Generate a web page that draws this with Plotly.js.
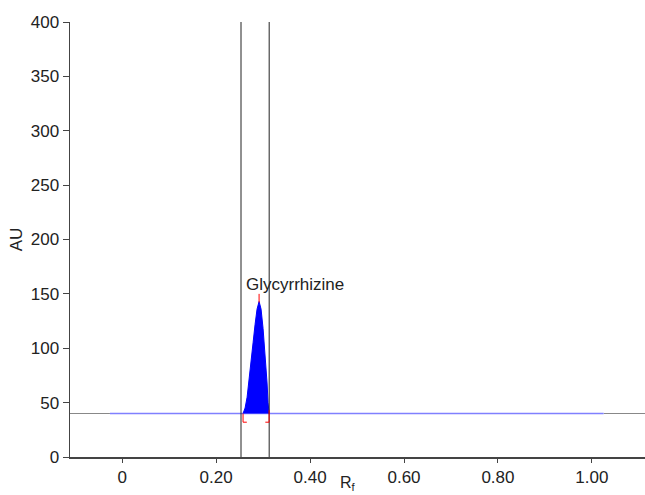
<!DOCTYPE html>
<html><head><meta charset="utf-8">
<script src="https://cdn.plot.ly/plotly-3.0.1.min.js"></script>
<style>html,body{margin:0;padding:0;background:#fff}#c{width:645px;height:495px}</style>
</head><body><div id="c"></div>
<script>
// Peak profile (Rf vs AU)
const peakRf = [0.2574, 0.2617, 0.2660, 0.2702, 0.2745, 0.2787, 0.2830, 0.2872, 0.2915, 0.2957, 0.3000, 0.3043, 0.3085, 0.3106, 0.3128];
const peakAU = [40, 45, 55, 70, 88, 105, 122, 136, 143, 136, 118, 95, 68, 50, 40];
const baselineAU = 40;
const baseStart = -0.026, baseEnd = 1.025;
const xMin = -0.111, xMax = 1.113;
const boundLeft = 0.253, boundRight = 0.313;
const peakTopRf = 0.2915, peakMarkAU = [142, 150];
const tickVals = [0, 0.2, 0.4, 0.6, 0.8, 1.0];
const tickText = ["0", "0.20", "0.40", "0.60", "0.80", "1.00"];
const yTicks = [0, 50, 100, 150, 200, 250, 300, 350, 400];
const label = "Glycyrrhizine";

const font = {family: "Liberation Sans, Arial, sans-serif", size: 17, color: "#222"};
const traces = [
  {x: [xMin, baseStart], y: [baselineAU, baselineAU], mode: 'lines', line: {color: '#888', width: 1.2}},
  {x: [baseEnd, xMax], y: [baselineAU, baselineAU], mode: 'lines', line: {color: '#888', width: 1.2}},
  {x: [baseStart, baseEnd], y: [baselineAU, baselineAU], mode: 'lines', line: {color: '#8080ff', width: 1.5}},
  {x: peakRf, y: peakAU, mode: 'lines', fill: 'toself', fillcolor: '#0000ff', line: {color: '#0000ff', width: 1}},
  {x: [boundLeft, boundLeft], y: [0, 400], mode: 'lines', line: {color: '#222', width: 1}},
  {x: [boundRight, boundRight], y: [0, 400], mode: 'lines', line: {color: '#222', width: 1}},
  {x: [peakTopRf, peakTopRf], y: peakMarkAU, mode: 'lines', line: {color: '#ff0000', width: 1}},
  {x: [peakRf[0] + 0.008, peakRf[0], peakRf[0]], y: [32, 32, baselineAU], mode: 'lines', line: {color: '#ff0000', width: 1}},
  {x: [peakRf[peakRf.length-1] - 0.008, peakRf[peakRf.length-1], peakRf[peakRf.length-1]], y: [32, 32, baselineAU + 3], mode: 'lines', line: {color: '#ff0000', width: 1}}
];
const layout = {
  width: 645, height: 495,
  margin: {l: 70, r: 0, t: 22, b: 38},
  showlegend: false,
  paper_bgcolor: '#fff', plot_bgcolor: '#fff',
  font: font,
  xaxis: {range: [xMin, xMax], tickvals: tickVals, ticktext: tickText, ticks: 'outside', ticklen: 4,
    tickcolor: '#444', showgrid: false, zeroline: false, showline: true, linecolor: '#444', linewidth: 1.5,
    tickfont: font},
  yaxis: {range: [0, 400], tickvals: yTicks, ticks: 'outside', ticklen: 6, tickcolor: '#444',
    showgrid: false, zeroline: false, showline: true, linecolor: '#444', linewidth: 1.5,
    tickfont: font, title: {text: 'AU', font: font, standoff: 4}},
  annotations: [
    {x: 0.368, y: 159, xref: 'x', yref: 'y', text: label, showarrow: false, font: font},
    {x: 0.481, y: 0, xref: 'x', yref: 'paper', yanchor: 'top', yshift: -15, text: 'R<sub>f</sub>', showarrow: false, font: {family: font.family, size: 16, color: font.color}}
  ]
};
Plotly.newPlot('c', traces, layout, {displayModeBar: false, staticPlot: true});
</script></body></html>
